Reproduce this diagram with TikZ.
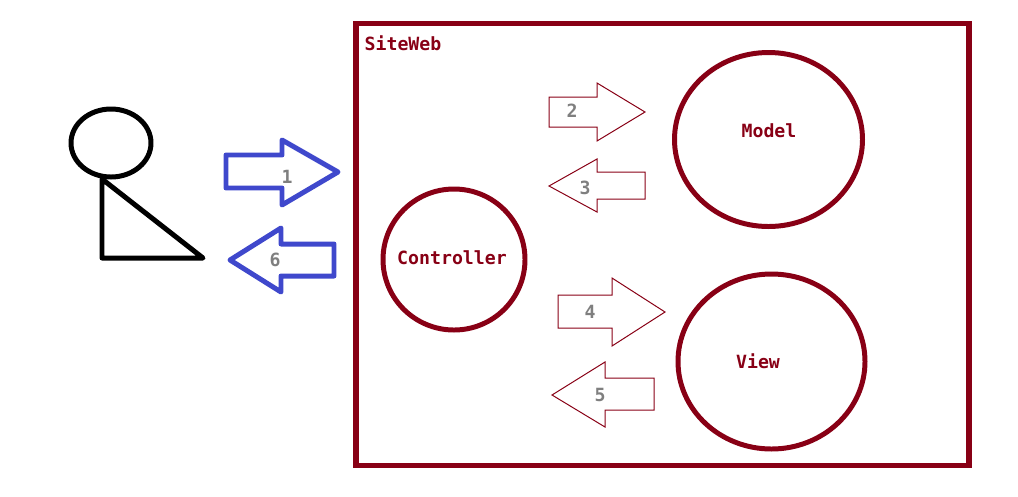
\documentclass[tikz,border=0pt]{standalone}
\usepackage{fontspec}
\setmonofont{DejaVu Sans Mono}
\usepackage{xcolor}
\definecolor{siteRed}{RGB}{136,0,21}
\definecolor{userBlue}{RGB}{63,72,204}
\definecolor{numGray}{RGB}{127,127,127}
\usetikzlibrary{shapes.geometric}
\newcommand{\px}{0.0264583cm}
\tikzset{
  part/.style={ellipse, draw=siteRed, line width=3.75pt, inner sep=0pt},
  partname/.style={text=siteRed, font=\ttfamily\bfseries\fontsize{13.7pt}{14pt}\selectfont},
  num/.style={text=numGray, font=\ttfamily\bfseries\fontsize{13.7pt}{14pt}\selectfont},
  thinarrow/.style={draw=siteRed, line width=0.75pt},
  widearrow/.style={draw=userBlue, line width=3.75pt, line join=round}
}
\begin{document}
\begin{tikzpicture}[x=\px, y=-\px]
    \useasboundingbox (0, 0) rectangle (1018, 496);
    % site
    \node[draw=siteRed, line width=4pt, minimum width=613*\px, minimum height=442*\px, inner sep=0pt] (site) at (662.5, 244.5) {};
    \node[partname] (sitename) at (403, 43) {SiteWeb};
    % parts
    \node[part, minimum width=188*\px, minimum height=174*\px] (model) at (768.5, 139.5) {};
    \node[part, minimum width=187*\px, minimum height=175*\px] (view) at (771.5, 361.5) {};
    \node[part, minimum width=142*\px, minimum height=141*\px] (controller) at (454, 259.5) {};
    \node[partname] (modelname) at (769, 131) {Model};
    \node[partname] (viewname) at (758, 361) {View};
    \node[partname] (controllername) at (452, 258) {Controller};
    % user
    \node[ellipse, draw=black, line width=3.75pt, minimum width=80*\px, minimum height=68*\px, inner sep=0pt] (head) at (111, 143) {};
    \coordinate (neck) at (102, 179);
    \coordinate (hip) at (102, 258);
    \coordinate (foot) at (203, 258);
    \draw[line width=3.75pt, line join=round, line cap=round] (neck) -- (hip) -- (foot) -- cycle;
    % big arrows
    \draw[widearrow] (226, 155) -- (282, 155) -- (282, 140) -- (338, 172) -- (282, 205) -- (282, 188) -- (226, 188) -- cycle;
    \draw[widearrow] (334, 244) -- (281, 244) -- (281, 228) -- (230, 260) -- (281, 292) -- (281, 276) -- (334, 276) -- cycle;
    % small arrows
    \draw[thinarrow] (549, 97) -- (597, 97) -- (597, 83) -- (645, 112) -- (597, 141) -- (597, 127) -- (549, 127) -- cycle;
    \draw[thinarrow] (645, 172) -- (597, 172) -- (597, 159) -- (549, 186) -- (597, 212) -- (597, 199) -- (645, 199) -- cycle;
    \draw[thinarrow] (558, 295) -- (612, 295) -- (612, 278) -- (665, 312) -- (612, 346) -- (612, 328) -- (558, 328) -- cycle;
    \draw[thinarrow] (654, 378) -- (605, 378) -- (605, 362) -- (552, 395) -- (605, 427) -- (605, 410) -- (654, 410) -- cycle;
    % numbers
    \node[num] (n1) at (287, 177) {1};
    \node[num] (n2) at (572, 111) {2};
    \node[num] (n3) at (585, 188) {3};
    \node[num] (n4) at (590, 312) {4};
    \node[num] (n5) at (600, 395) {5};
    \node[num] (n6) at (275, 260) {6};
\end{tikzpicture}
\end{document}
